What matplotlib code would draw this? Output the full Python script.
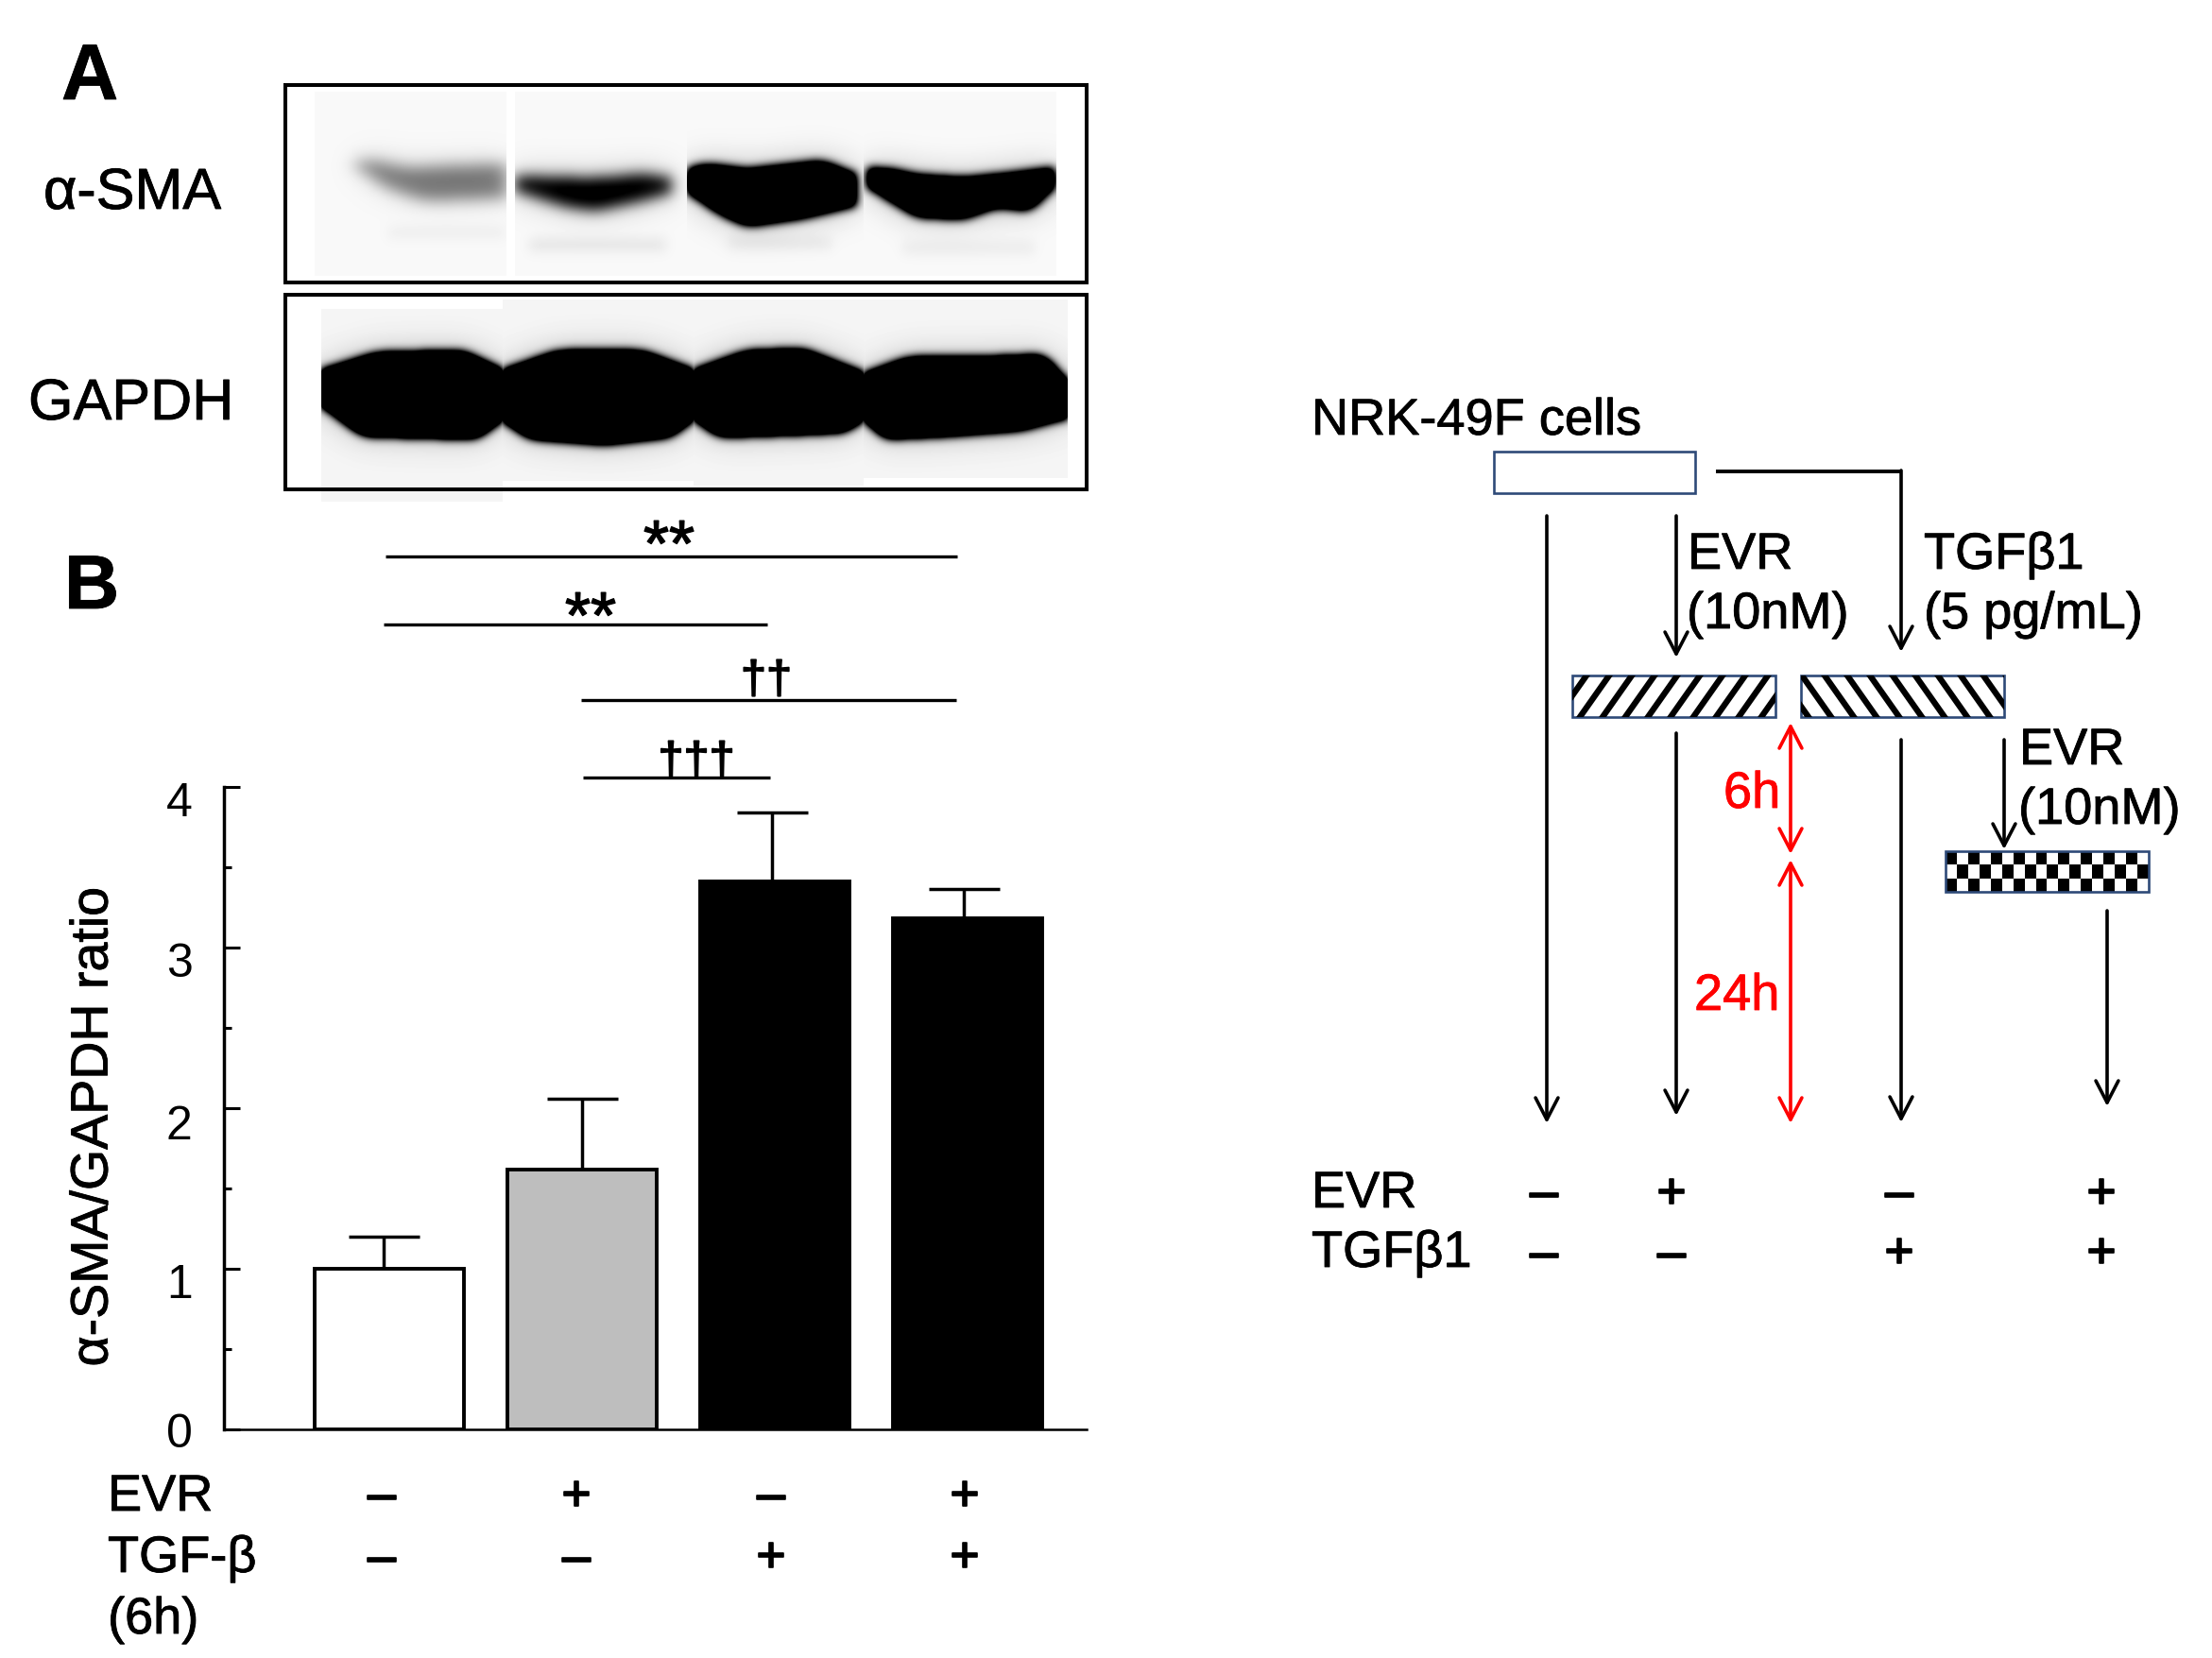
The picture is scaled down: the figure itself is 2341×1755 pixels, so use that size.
import matplotlib
matplotlib.use('Agg')
import matplotlib.pyplot as plt
import matplotlib.patheffects as pe
import numpy as np
from matplotlib.patches import Rectangle
from matplotlib.ticker import MultipleLocator
from matplotlib.transforms import ScaledTranslation

W, H = 2341, 1756
plt.rcParams['font.family'] = ['Liberation Sans', 'DejaVu Sans']

# bar chart values
groups = ['EVR- TGF-', 'EVR+ TGF-', 'EVR- TGF+', 'EVR+ TGF+']
ratio = [1.0, 1.615, 3.41, 3.18]
ratio_err = [0.2, 0.44, 0.43, 0.18]
bar_colors = ['white', '#bebebe', 'black', 'black']
yticks = [0, 1, 2, 3, 4]

evr_signs = ['–', '+', '–', '+']
tgf_signs = ['–', '–', '+', '+']
scheme_evr = ['–', '+', '–', '+']
scheme_tgf = ['–', '–', '+', '+']

# western blot lanes: x range, background y range, band edges (x, y) and band darkness
sma_lanes = [
    dict(x=(333, 536), y=(98, 293), top=[(375, 172), (395, 170), (430, 178), (470, 176), (536, 174)],
         bot=[(375, 176), (410, 200), (450, 213), (536, 210)], dark=0.42, soft=8,
         faint=(247, 0.05), fx=(410, 535)),
    dict(x=(545, 727), y=(98, 293), top=[(545, 186), (600, 188), (640, 188), (680, 184), (710, 188)],
         bot=[(545, 203), (600, 220), (630, 224), (680, 213), (710, 205)], dark=0.85, soft=7,
         faint=(260, 0.10), fx=(560, 705)),
    dict(x=(727, 914), y=(98, 293), top=[(728, 180), (745, 174), (790, 180), (870, 171), (905, 185)],
         bot=[(728, 204), (760, 226), (790, 240), (850, 231), (905, 218)], dark=1.9,
         faint=(258, 0.08), fx=(770, 880)),
    dict(x=(914, 1118), y=(98, 293), top=[(918, 179), (940, 179), (970, 186), (1020, 189), (1070, 184), (1115, 178)],
         bot=[(918, 198), (940, 212), (970, 230), (1020, 232), (1055, 219), (1090, 224), (1115, 198)], dark=1.9,
         faint=(263, 0.07), fx=(955, 1095)),
]
gapdh_lanes = [
    dict(x=(340, 532), y=(328, 532), top=[(340, 393), (398, 375), (490, 373), (532, 393)],
         bot=[(340, 429), (383, 461), (505, 464), (532, 443)], dark=2.4),
    dict(x=(532, 734), y=(318, 510), top=[(532, 393), (590, 373), (680, 373), (734, 393)],
         bot=[(532, 445), (560, 464), (640, 470), (710, 462), (734, 443)], dark=2.4),
    dict(x=(734, 914), y=(318, 515), top=[(734, 393), (790, 373), (850, 371), (914, 396)],
         bot=[(734, 443), (760, 462), (850, 459), (895, 457), (914, 443)], dark=2.4),
    dict(x=(914, 1130), y=(318, 507), top=[(914, 397), (960, 380), (1060, 379), (1105, 377), (1130, 407)],
         bot=[(914, 443), (935, 464), (1000, 461), (1080, 455), (1125, 443)], dark=2.4),
]


def blur(img, sigma):
    r = int(3 * sigma)
    k = np.exp(-0.5 * (np.arange(-r, r + 1) / sigma) ** 2)
    k = k / k.sum()
    pad = np.pad(img, r, mode='constant')
    pad = np.apply_along_axis(lambda v: np.convolve(v, k, mode='same'), 0, pad)
    pad = np.apply_along_axis(lambda v: np.convolve(v, k, mode='same'), 1, pad)
    return pad[r:-r, r:-r]


def draw_lane(ax, lane, bg):
    x0, x1 = lane['x']
    y0, y1 = lane['y']
    xs = np.arange(x0, x1)
    ys = np.arange(y0, y1)
    top = np.interp(xs, *zip(*lane['top']))
    bot = np.interp(xs, *zip(*lane['bot']))
    # round off the corners of the band outline
    box = np.ones(21) / 21
    top = np.convolve(np.pad(top, 10, mode='edge'), box, mode='valid')
    bot = np.convolve(np.pad(bot, 10, mode='edge'), box, mode='valid')
    left, right = lane['top'][0][0], lane['top'][-1][0]
    xx, yy = np.meshgrid(xs, ys)
    mask = ((yy > top[None, :]) & (yy < bot[None, :]) & (xx >= left) & (xx <= right)).astype(float)
    d = lane['dark'] * blur(mask, lane.get('soft', 5)) + 0.3 * min(lane['dark'], 1) * blur(mask, 17)
    if 'faint' in lane:
        fy, fd = lane['faint']
        fa, fb = lane['fx']
        streak = np.exp(-0.5 * ((yy - fy) / 4) ** 2) * ((xx > fa) & (xx < fb))
        d = d + fd * blur(streak, 6)
    img = np.clip(bg - d, 0, 1)
    ax.imshow(img, cmap='gray', vmin=0, vmax=1, extent=(x0, x1, y1, y0), aspect='auto',
              interpolation='bilinear', zorder=1)


fig = plt.figure(figsize=(W / 100, H / 100), dpi=100, facecolor='white')
bg = fig.add_axes([0, 0, 1, 1])
bg.axis('off')

for lane in sma_lanes:
    draw_lane(bg, lane, 0.975)
for lane in gapdh_lanes:
    draw_lane(bg, lane, 0.96)
bg.add_patch(Rectangle((302, 91), 848, 209, fill=False, ec='black', lw=2.9, zorder=3))
bg.add_patch(Rectangle((302, 313), 848, 206, fill=False, ec='black', lw=2.9, zorder=3))

# panel B
ax = fig.add_axes([237 / W, 1 - 1514 / H, 913 / W, 680.5 / H])
ax.patch.set_alpha(0)
pos = np.arange(len(groups))
ax.bar(pos, ratio, width=0.775, color=bar_colors, edgecolor='black', linewidth=2.8, zorder=2)
ax.errorbar(pos - np.array([0.032, 0.0, 0.012, 0.017]), ratio, yerr=[np.zeros(4), ratio_err], fmt='none',
            ecolor='black', elinewidth=2.5, capsize=27, capthick=2.5, zorder=1)
ax.set_xlim(-0.859, 3.62)
ax.set_ylim(0, 4)
ax.set_yticks(yticks)
ax.set_xticks([])
ax.yaxis.set_minor_locator(MultipleLocator(0.5))
ax.tick_params(axis='y', which='major', direction='in', length=12, width=2.2, labelsize=36, pad=24)
ax.tick_params(axis='y', which='minor', direction='in', length=6, width=2.2)
for spine in ['top', 'right']:
    ax.spines[spine].set_visible(False)
ax.spines['left'].set_linewidth(2.5)
ax.spines['bottom'].set_linewidth(1.8)
for lab, off in zip(ax.get_yticklabels(), [0, 12, 14, 12, 13]):
    lab.set_transform(lab.get_transform() + ScaledTranslation(0, -off / 100, fig.dpi_scale_trans))
ax.set_ylabel('α-SMA/GAPDH ratio', fontsize=40, path_effects=[pe.withStroke(linewidth=0.6, foreground='black')])
ax.yaxis.set_label_coords(-0.122, 0.47)

# everything else in pixel coordinates
ov = fig.add_axes([0, 0, 1, 1])
ov.axis('off')
ov.patch.set_alpha(0)
ov.set_xlim(0, W)
ov.set_ylim(H, 0)
bg.set_xlim(0, W)
bg.set_ylim(H, 0)


def label(x, y, s, size=39, color='black', stroke=0.6, **kw):
    kw.setdefault('va', 'baseline')
    ov.text(x, y, s, fontsize=size, color=color,
            path_effects=[pe.withStroke(linewidth=stroke, foreground=color)], **kw)


label(65, 106, 'A', size=60, fontweight='bold')
label(68, 645, 'B', size=58, fontweight='bold')
label(46, 222, 'α-SMA', size=44)
label(30, 445, 'GAPDH', size=44)

# significance lines
sig_lines = [(408, 1013, 590), (406, 812, 662), (615, 1012, 742), (617, 815, 824)]
for xa, xb, y in sig_lines:
    ov.plot([xa, xb], [y, y], color='black', lw=2.4, solid_capstyle='butt')
label(708, 582, '**', size=50, stroke=1.0, ha='center', va='center')
label(625, 658, '**', size=50, stroke=1.0, ha='center', va='center')
label(811, 722, '††', size=35, stroke=1.2, ha='center', va='center')
label(737, 808, '†††', size=35, stroke=1.2, ha='center', va='center')

# table below bars
label(114, 1600, 'EVR')
label(114, 1665, 'TGF-β')
label(114, 1730, '(6h)')
for x, a, b in zip([404, 610, 816, 1021], evr_signs, tgf_signs):
    label(x, 1586, a, stroke=1.2, ha='center', va='center')
    label(x, 1652 if b == '–' else 1651, b, stroke=1.2, ha='center', va='center')


def arrow(x, y0, y1, color='black', both=False):
    style = '<->' if both else '->'
    ov.annotate('', xy=(x, y1), xytext=(x, y0),
                arrowprops=dict(arrowstyle=style + ',head_length=1.66,head_width=0.86', mutation_scale=10,
                                color=color, lw=2.6, shrinkA=0, shrinkB=0))


# scheme
navy = '#2e4a78'
label(1388, 461, 'NRK-49F cells')
ov.add_patch(Rectangle((1581, 479), 213, 44, fc='white', ec=navy, lw=1.9))
ov.plot([1816, 2012], [500, 500], color='black', lw=2.8, solid_capstyle='butt')
arrow(2012, 499, 691)
arrow(1637, 547, 1190)
arrow(1774, 547, 697)
arrow(1774, 777, 1182)
arrow(2012, 784, 1189)
arrow(2121, 784, 900)
arrow(2230, 965, 1172)

for (xa, xb, sign) in [(1664, 1879, 1), (1906, 2121, -1)]:
    box = Rectangle((xa, 716), xb - xa, 44, fc='white', ec='none')
    ov.add_patch(box)
    for x in np.arange(xa - 40, xb + 40, 24):
        line, = ov.plot([x, x + sign * 31], [760, 716], color='black', lw=4.6, solid_capstyle='projecting')
        line.set_clip_path(box)
    ov.add_patch(Rectangle((xa, 716), xb - xa, 44, fill=False, ec=navy, lw=1.9))

checker = np.indices((3, 18)).sum(axis=0) % 2
ov.imshow(checker, cmap='gray', vmin=0, vmax=1, extent=(2059, 2274, 945, 902), aspect='auto',
          interpolation='nearest')
ov.add_patch(Rectangle((2059, 902), 215, 43, fill=False, ec=navy, lw=1.9))
ov.set_xlim(0, W)
ov.set_ylim(H, 0)

arrow(1895, 905, 766, color='#ff0000', both=True)
arrow(1895, 911, 1190, color='#ff0000', both=True)
label(1824, 856, '6h', color='#ff0000')
label(1793, 1070, '24h', color='#ff0000')

label(1786, 603, 'EVR')
label(1785, 666, '(10nM)')
label(2036, 603, 'TGFβ1')
label(2036, 666, '(5 pg/mL)')
label(2137, 810, 'EVR')
label(2136, 873, '(10nM)')

label(1388, 1279, 'EVR')
label(1388, 1342, 'TGFβ1')
for x, a, b in zip([1634, 1769, 2010, 2224], scheme_evr, scheme_tgf):
    label(x, 1266, a, stroke=1.2, ha='center', va='center')
    label(x, 1330 if b == '–' else 1329, b, stroke=1.2, ha='center', va='center')

fig.savefig('out.png', dpi=100)
